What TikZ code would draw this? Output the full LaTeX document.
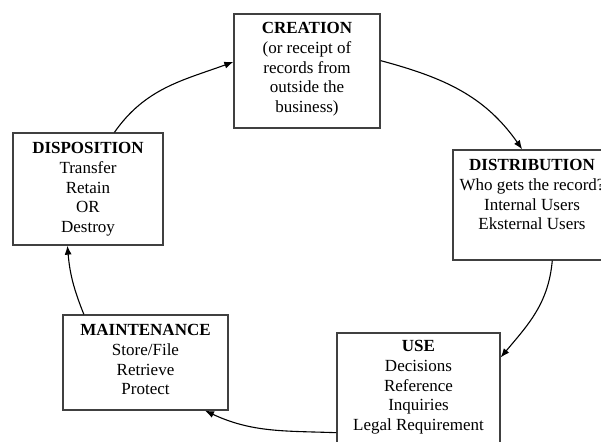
\documentclass[tikz,border=0pt]{standalone}
\usepackage{fontspec}
\setmainfont{Liberation Serif}
\usetikzlibrary{positioning,arrows.meta}
\newcommand\stagefont{\fontsize{17}{19.6}\selectfont}

\begin{document}
\begin{tikzpicture}
  [x=1pt,y=1pt,
   box/.style={draw=black!75,line width=1.3pt,inner sep=0pt},
   txt/.style={inner sep=0pt,align=center,font=\stagefont},
   link/.style={-{Latex[length=9pt,width=7pt]},line width=1.1pt}]
  \useasboundingbox (0,0) rectangle (601,441);
  \clip (0,0) rectangle (601,441);

  \node[box,minimum width=146,minimum height=114] (crea) at (307,370) {};
  \node[box,minimum width=158,minimum height=110] (distr) at (532,236) {};
  \node[box,minimum width=163,minimum height=112] (use) at (418.5,52) {};
  \node[box,minimum width=165,minimum height=95] (maint) at (145.5,78.5) {};
  \node[box,minimum width=150,minimum height=112] (disp) at (88,252) {};

  \node[txt,below=9pt of crea.north] (creatext) {\textbf{CREATION}\\(or receipt of\\records from\\outside the\\business)};
  \node[txt,below=10pt of distr.north] (distrtext) {\textbf{DISTRIBUTION}\\Who gets the record?\\Internal Users\\Eksternal Users};
  \node[txt,below=8pt of use.north] (usetext) {\textbf{USE}\\Decisions\\Reference\\Inquiries\\Legal Requirement};
  \node[txt,below=10pt of maint.north] (mainttext) {\textbf{MAINTENANCE}\\Store/File\\Retrieve\\Protect};
  \node[txt,below=10pt of disp.north] (disptext) {\textbf{DISPOSITION}\\Transfer\\Retain\\OR\\Destroy};

  \foreach \from/\to/\o/\i in {disp.65/crea.173/55/200, crea.8/distr.100/-15/125,
    distr.-70/use.21/-95/50, use.208/maint.-39/178/-25, maint.142/disp.-110/112/-85}
    \draw[link] (\from) to[out=\o,in=\i] (\to);

\end{tikzpicture}
\end{document}
